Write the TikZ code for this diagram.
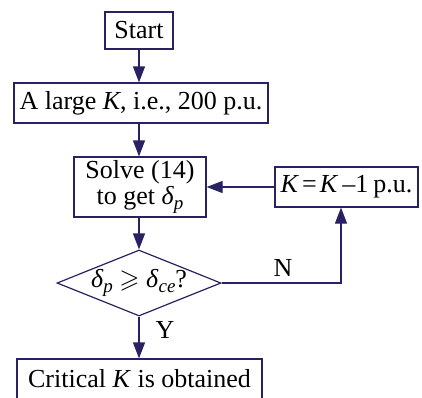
\documentclass[tikz,border=0pt]{standalone}
\usepackage{amssymb}
\usepackage{fontspec}
\setmainfont{Liberation Serif}
\usetikzlibrary{arrows.meta,shapes.geometric}
\definecolor{navy}{RGB}{40,34,98}
\newcommand\subsc[1]{\raisebox{-0.4ex}{\fontsize{9.5}{9.5}\selectfont\textit{#1}}}
\begin{document}
\begin{tikzpicture}[x=0.5pt,y=-0.5pt,
  every node/.style={font=\fontsize{13}{14}\selectfont},
  box/.style={draw=navy,line width=0.6pt,inner sep=0pt,align=center},
  dec/.style={draw=navy,line width=0.6pt,diamond,aspect=2.48,inner sep=0pt,minimum width=82pt,minimum height=33pt},
  flow/.style={draw=navy,line width=0.6pt,-{Triangle[length=8pt,width=6pt]}},
  lbl/.style={inner sep=0pt}]
\useasboundingbox (0,0) rectangle (422,397);
\coordinate (col) at (139,0);
\coordinate (rcol) at (341,0);
\node[box,minimum width=34pt,minimum height=18.5pt] (start) at (139,30.5) {Start};
\node[box,minimum width=127pt,minimum height=20pt] (large) at (141,103) {A large \textit{K}, i.e., 200 p.u.};
\node[box,minimum width=66pt,minimum height=30pt] (solve) at (140,187) {Solve (14)\\[-1pt] to get \textit{δ}\subsc{p}};
\node[box,minimum width=71.5pt,minimum height=20pt] (kbox) at (346.5,187) {\textit{K}\kern1.5pt=\kern1.5pt\textit{K}\kern2pt–1\kern2.5pt p.u.};
\node[dec] (d) at (139,283) {\textit{δ}\subsc{p} $\geqslant$ \textit{δ}\subsc{ce}?};
\node[box,minimum width=122.5pt,minimum height=20pt] (crit) at (139.5,379) {Critical \textit{K} is obtained};
\node[lbl] (n) at (283,268) {N};
\node[lbl] (y) at (165,330) {Y};
\draw[flow] (col |- start.south) -- (col |- large.north);
\draw[flow] (col |- large.south) -- (col |- solve.north);
\draw[flow] (col |- solve.south) -- (d.north);
\draw[flow] (d.south) -- (col |- crit.north);
\draw[flow] (d.east) -- (rcol |- d.east) -- (rcol |- kbox.south);
\draw[flow] (kbox.west) -- (solve.east);
\end{tikzpicture}
\end{document}
